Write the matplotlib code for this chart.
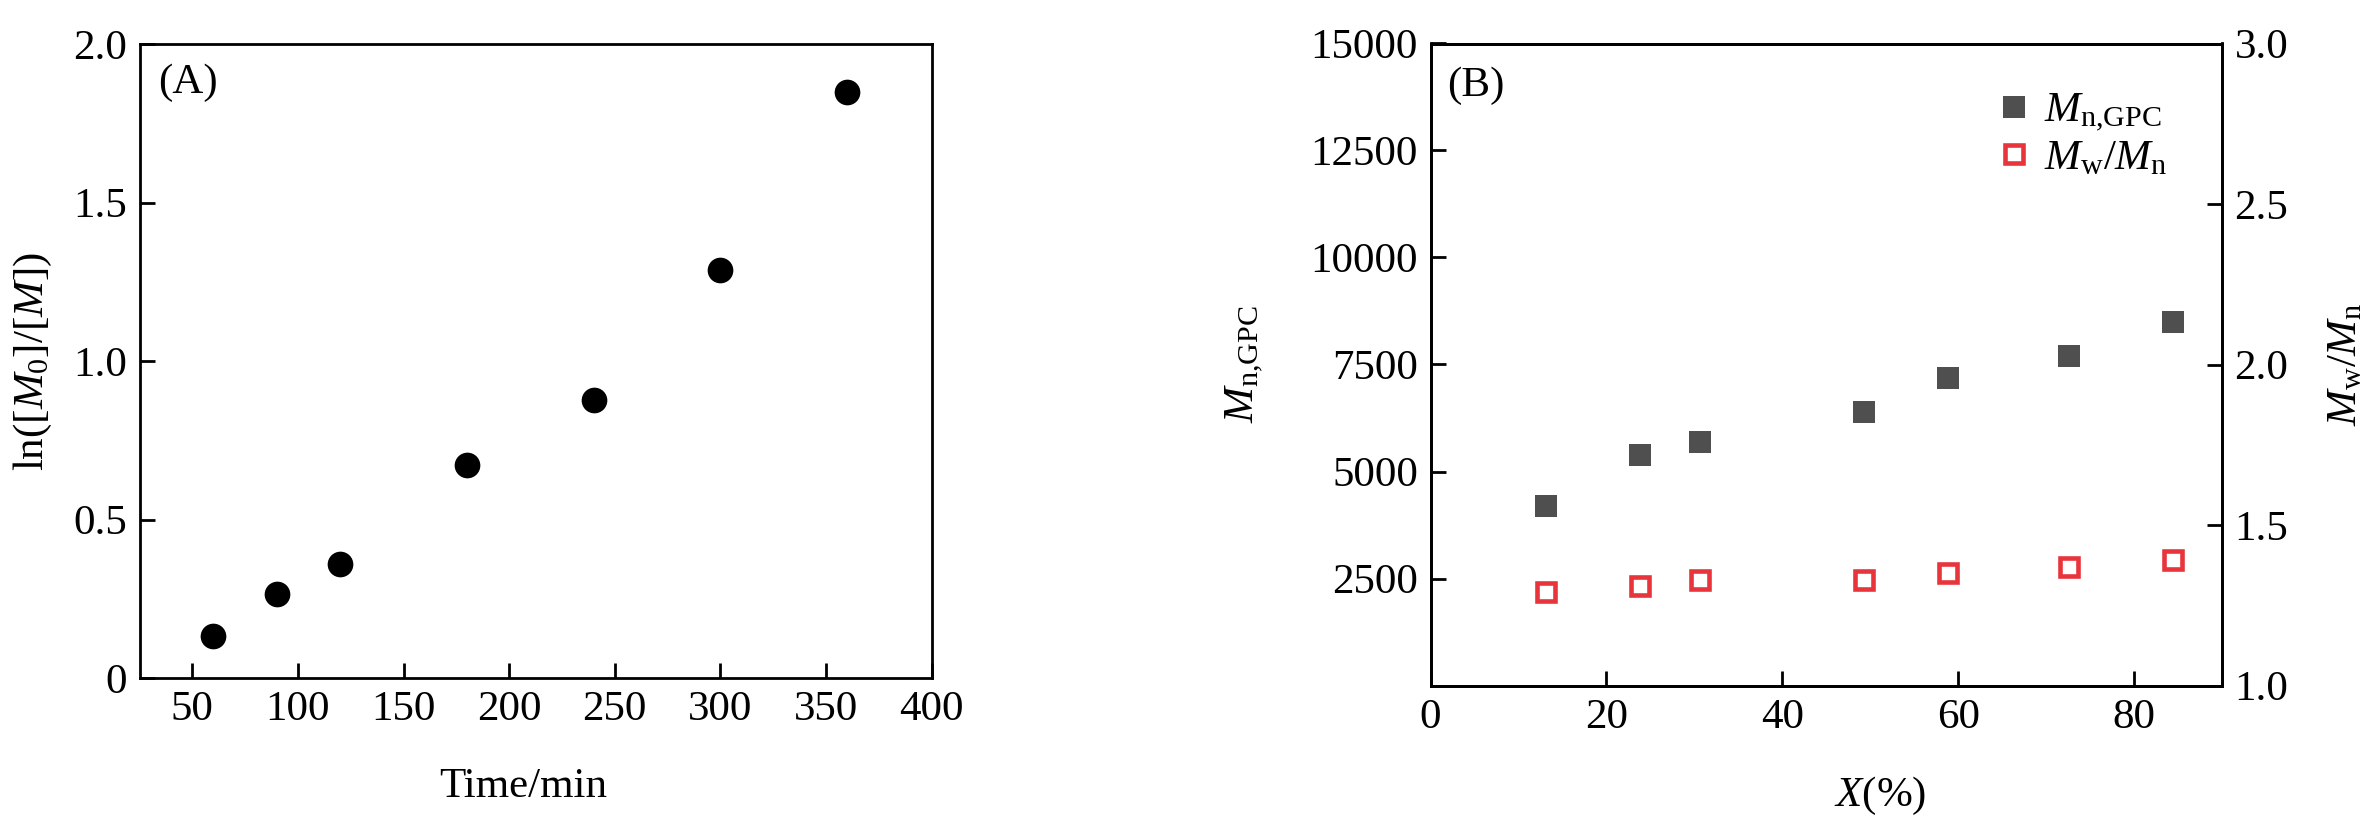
import matplotlib
matplotlib.use("Agg")
import matplotlib.pyplot as plt

plt.rcParams['font.family'] = ['Liberation Serif', 'DejaVu Serif']
plt.rcParams['mathtext.fontset'] = 'custom'
plt.rcParams['mathtext.rm'] = 'Liberation Serif'
plt.rcParams['mathtext.it'] = 'Liberation Serif:italic'
plt.rcParams['mathtext.bf'] = 'Liberation Serif:bold'

# ---- data: panel A ----
time_min = [60, 90, 120, 180, 240, 300, 360]
ln_m0_m = [0.134, 0.265, 0.360, 0.672, 0.878, 1.286, 1.850]
a_xticks = [50, 100, 150, 200, 250, 300, 350, 400]
a_yticks = [0, 0.5, 1.0, 1.5, 2.0]
a_yticklabels = ["0", "0.5", "1.0", "1.5", "2.0"]

# ---- data: panel B ----
conversion = [13.1, 23.8, 30.6, 49.3, 58.8, 72.6, 84.4]
mn_gpc = [4190, 5380, 5690, 6380, 7190, 7690, 8500]
pdi = [1.29, 1.31, 1.33, 1.33, 1.35, 1.37, 1.39]
b_xticks = [0, 20, 40, 60, 80]
b_yticks_left = [2500, 5000, 7500, 10000, 12500, 15000]
b_yticks_right = [1.0, 1.5, 2.0, 2.5, 3.0]
b_yticklabels_right = ["1.0", "1.5", "2.0", "2.5", "3.0"]

FS = 31
LW = 2.0
W, H = 2362, 835
fig = plt.figure(figsize=(W / 100, H / 100), dpi=100)

def frac(l, t, r, b):
    return [l / W, 1 - b / H, (r - l) / W, (b - t) / H]

def style(ax):
    for s in ax.spines.values():
        s.set_linewidth(LW)
    ax.tick_params(direction='in', length=11, width=LW, labelsize=FS, pad=9)

# Panel A
axA = fig.add_axes(frac(139.5, 44, 931.5, 678))
axA.plot(time_min, ln_m0_m, 'o', color='black', ms=18.5, mew=0, ls='none')
axA.set_xlim(25, 400)
axA.set_ylim(0, 2.0)
axA.set_xticks(a_xticks)
axA.set_yticks(a_yticks)
axA.set_yticklabels(a_yticklabels)
style(axA)
axA.tick_params(top=False, right=False)
axA.set_xlabel('Time/min', fontsize=FS)
axA.xaxis.set_label_coords(0.484, -0.141)
axA.set_ylabel(r'ln([$M_{\mathrm{0}}$]/[$M$])', fontsize=FS)
axA.yaxis.set_label_coords(-0.108, 0.5)
axA.text(0.024, 0.922, '(A)', transform=axA.transAxes, fontsize=FS,
         ha='left', va='baseline')

# Panel B
axB = fig.add_axes(frac(1430.5, 43.5, 2222, 685.5))
axB2 = axB.twinx()
h1, = axB.plot(conversion, mn_gpc, 's', color='#4f4f4f', ms=15.5, mew=0,
               ls='none', label=r'$M_{\mathrm{n{,}GPC}}$')
h2, = axB2.plot(conversion, pdi, 's', mfc='white', mec='#e8343b', ms=12.5,
                mew=3.3, ls='none', label=r'$M_{\mathrm{w}}/M_{\mathrm{n}}$')
axB.set_xlim(0, 90)
axB.set_ylim(0, 15000)
axB.set_xticks(b_xticks)
axB.set_yticks(b_yticks_left)
axB2.set_ylim(1.0, 3.0)
axB2.set_yticks(b_yticks_right)
axB2.set_yticklabels(b_yticklabels_right)
style(axB)
style(axB2)
axB.tick_params(top=False, right=False)
axB2.tick_params(left=False, top=False, bottom=False)
axB.set_xlabel(r'$X$(%)', fontsize=FS)
axB.xaxis.set_label_coords(0.568, -0.139)
axB.set_ylabel(r'$M_{\mathrm{n{,}GPC}}$', fontsize=FS)
axB.yaxis.set_label_coords(-0.208, 0.5)
axB2.set_ylabel(r'$M_{\mathrm{w}}/M_{\mathrm{n}}$', fontsize=FS)
axB2.yaxis.set_label_coords(1.133, 0.5)
axB.text(0.021, 0.919, '(B)', transform=axB.transAxes, fontsize=FS,
         ha='left', va='baseline')
axB2.legend(handles=[h1, h2], loc='upper left', bbox_to_anchor=(0.71, 0.925),
            frameon=False, fontsize=FS, handlelength=1.0, handletextpad=0.2,
            borderpad=0, borderaxespad=0, labelspacing=0.12, numpoints=1)

fig.savefig('out.png', dpi=100)
